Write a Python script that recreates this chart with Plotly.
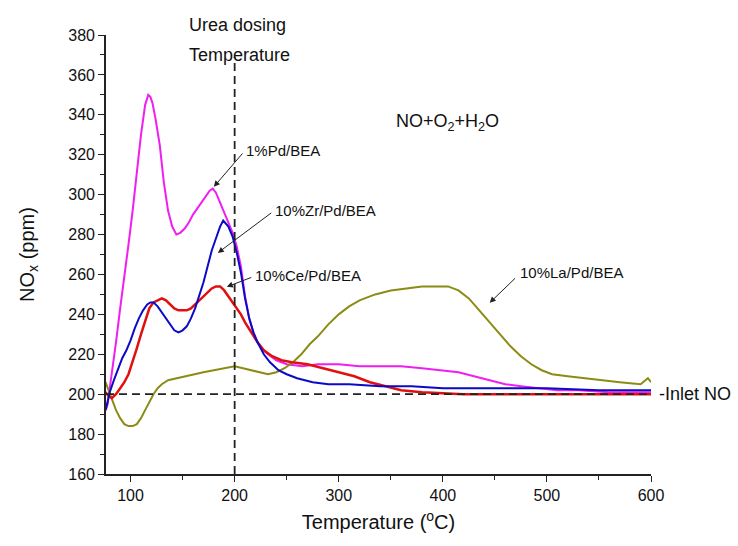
import plotly.graph_objects as go

# NOx outlet concentration during temperature ramp (NO+O2+H2O feed)
pd_T = [76, 78, 80, 83, 86, 90, 94, 98, 102, 106, 110, 114, 117, 119, 121, 124, 128,
        132, 136, 140, 144, 148, 152, 156, 160, 164, 168, 172, 176, 179, 182, 186, 190,
        194, 198, 202, 206, 210, 214, 218, 222, 226, 232, 240, 250, 265, 280, 300, 320,
        340, 360, 380, 400, 415, 430, 445, 460, 475, 490, 510, 530, 560, 600]
pd_nox = [192, 195, 203, 214, 226, 243, 258, 275, 292, 312, 330, 345, 350, 349, 346, 338, 325,
          306, 292, 284, 280, 281, 283, 286, 290, 293, 296, 299, 302, 303, 301, 296, 291,
          286, 281, 274, 264, 249, 238, 231, 226, 223, 220, 217, 215, 214, 215, 215, 214,
          214, 214, 213, 212, 211, 209, 207, 205, 204, 203, 202, 202, 201, 201]

zr_T = [76, 78, 80, 84, 88, 92, 96, 100, 104, 108, 112, 116, 119, 122, 126, 130, 134, 138,
        142, 146, 150, 154, 158, 162, 166, 170, 174, 178, 182, 186, 189, 191, 194, 198, 202,
        206, 210, 214, 218, 222, 228, 234, 242, 250, 260, 275, 290, 310, 340, 370, 400, 450,
        500, 550, 600]
zr_nox = [192, 197, 201, 207, 213, 218, 222, 227, 233, 238, 242, 245, 246, 246, 244, 241, 238, 235,
          232, 231, 232, 234, 238, 243, 249, 256, 264, 272, 278, 284, 287, 286, 284, 279, 271,
          261, 248, 238, 231, 226, 220, 216, 212, 210, 208, 206, 205, 205, 204, 204, 203, 203,
          203, 202, 202]

ce_T = [76, 79, 82, 86, 90, 94, 98, 102, 106, 110, 114, 118, 122, 126, 130, 134, 138, 142, 146,
        150, 154, 158, 162, 166, 170, 174, 178, 182, 186, 190, 194, 198, 202, 206, 210, 216, 222,
        228, 236, 245, 255, 270, 285, 300, 315, 330, 345, 360, 380, 420, 470, 520, 560, 600]
ce_nox = [201, 199, 198, 200, 203, 206, 210, 216, 223, 230, 237, 243, 246, 247, 248, 247, 245, 243, 242,
          242, 242, 243, 245, 247, 249, 251, 253, 254, 254, 252, 249, 246, 243, 240, 236, 231, 226,
          222, 219, 217, 216, 215, 213, 211, 209, 206, 204, 202, 201, 200, 200, 200, 200, 200]

la_T = [76, 79, 82, 86, 90, 94, 98, 102, 106, 110, 114, 118, 122, 126, 130, 136, 144, 152, 160,
        170, 180, 190, 200, 208, 216, 224, 232, 240, 248, 256, 264, 272, 280, 290, 300, 310, 320,
        335, 350, 365, 380, 395, 405, 415, 425, 435, 445, 455, 465, 475, 485, 495, 505, 520, 535,
        550, 570, 590, 597, 600]
la_nox = [206, 202, 197, 192, 188, 185, 184, 184, 185, 188, 192, 196, 200, 203, 205, 207, 208, 209, 210,
          211, 212, 213, 214, 213, 212, 211, 210, 211, 213, 216, 220, 225, 229, 235, 240, 244, 247,
          250, 252, 253, 254, 254, 254, 252, 248, 242, 236, 230, 224, 219, 215, 212, 210, 209, 208,
          207, 206, 205, 208, 206]

inlet_no = 200          # ppm
urea_dosing_T = 200     # degC
x_min, x_max = 76.4, 600
y_min, y_max = 160, 380

FONT = "Liberation Sans, Arial, sans-serif"


def px(t):
    """data temperature -> paper x (for text placed outside the axis range)"""
    return (t - x_min) / (x_max - x_min)


def py(v):
    return (v - y_min) / (y_max - y_min)


fig = go.Figure()
series = [
    (pd_T, pd_nox, "1%Pd/BEA", "#F01EF0", 2),
    (la_T, la_nox, "10%La/Pd/BEA", "#8C8C14", 2),
    (ce_T, ce_nox, "10%Ce/Pd/BEA", "#E01010", 2.5),
    (zr_T, zr_nox, "10%Zr/Pd/BEA", "#0A0AC8", 2),
]
for t, v, name, color, w in series:
    fig.add_trace(go.Scatter(x=t, y=v, mode="lines", name=name,
                             line=dict(color=color, width=w)))

# reference lines: urea dosing temperature and inlet NO level
fig.add_shape(type="line", xref="x", yref="y", x0=urea_dosing_T, x1=urea_dosing_T,
              y0=y_min, y1=369, line=dict(color="#222", width=1.8, dash="8px,5px"))
fig.add_shape(type="line", xref="x", yref="y", x0=x_min, x1=x_max,
              y0=inlet_no, y1=inlet_no, line=dict(color="#222", width=1.8, dash="8px,5px"))

# curve labels with arrows
labels = [
    ("1%Pd/BEA", 209, 322, 208.8, 321.4, 180, 303.9),
    ("10%Zr/Pd/BEA", 237, 292, 236.6, 291.4, 183.8, 270.8),
    ("10%Ce/Pd/BEA", 217.5, 259.3, 217.4, 258.8, 192.5, 253.8),
    ("10%La/Pd/BEA", 472, 261, 470.9, 258.8, 445, 245.8),
]
for text, tx, ty, ax, ay, hx, hy in labels:
    fig.add_annotation(x=hx, y=hy, ax=ax, ay=ay, xref="x", yref="y", axref="x", ayref="y",
                       text="", showarrow=True, arrowhead=2, arrowsize=1.2, arrowwidth=1,
                       arrowcolor="#222")
    fig.add_annotation(x=tx, y=ty, xref="x", yref="y", text=text, showarrow=False,
                       xanchor="left", yanchor="middle",
                       font=dict(family=FONT, size=15, color="#111"))

fig.add_annotation(x=px(154), y=py(385), xref="paper", yref="paper", text="Urea dosing",
                   showarrow=False, xanchor="left", yanchor="middle",
                   font=dict(family=FONT, size=18, color="#111"))
fig.add_annotation(x=154, y=370.2, xref="x", yref="y", text="Temperature", showarrow=False,
                   xanchor="left", yanchor="middle", font=dict(family=FONT, size=18, color="#111"))
fig.add_annotation(x=404.6, y=336.4, xref="x", yref="y",
                   text="NO+O<sub>2</sub>+H<sub>2</sub>O", showarrow=False,
                   xanchor="center", yanchor="middle", font=dict(family=FONT, size=18, color="#111"))
fig.add_annotation(x=px(606), y=py(inlet_no), xref="paper", yref="paper", text="-Inlet NO",
                   showarrow=False, xanchor="left", yanchor="middle",
                   font=dict(family=FONT, size=18, color="#111"))

axis_common = dict(showline=True, linecolor="#222", linewidth=1.6, ticks="outside",
                   ticklen=6, tickwidth=1.4, tickcolor="#222", showgrid=False, zeroline=False,
                   tickfont=dict(family=FONT, size=16, color="#111"))
fig.update_xaxes(range=[x_min, x_max], tickvals=[100, 200, 300, 400, 500, 600],
                 minor=dict(tickvals=[150, 250, 350, 450, 550], ticklen=4, tickwidth=1.4,
                            tickcolor="#222", ticks="outside"),
                 title=dict(text="Temperature (<sup>o</sup>C)", standoff=12,
                            font=dict(family=FONT, size=20, color="#111")),
                 **axis_common)
fig.update_yaxes(range=[y_min, y_max], tickvals=list(range(160, 381, 20)),
                 minor=dict(tickvals=list(range(170, 380, 20)), ticklen=4, tickwidth=1.4,
                            tickcolor="#222", ticks="outside"),
                 title=dict(text="NO<sub>x</sub> (ppm)", standoff=28,
                            font=dict(family=FONT, size=20, color="#111")),
                 **axis_common)

fig.update_layout(width=738, height=546, showlegend=False,
                  margin=dict(l=106, r=87, t=35, b=72, autoexpand=False),
                  plot_bgcolor="white", paper_bgcolor="white")

fig.write_html("out.html")
